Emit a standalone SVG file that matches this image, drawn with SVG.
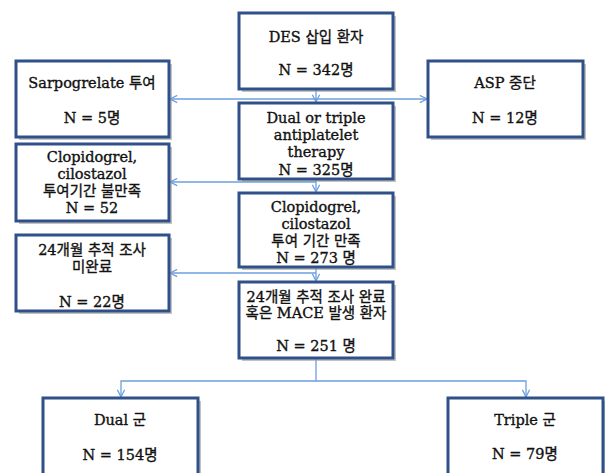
<svg xmlns="http://www.w3.org/2000/svg" width="605" height="473" viewBox="0 0 605 473">
<defs>
<style>
.box{fill:#fff;stroke:#2f5089;stroke-width:3}
.sh{fill:#9a9a9a;opacity:0.6}
.t{font-family:"DejaVu Serif","Noto Sans CJK KR",serif;font-size:14.5px;font-weight:normal;fill:#111;stroke:#111;stroke-width:0.35;text-anchor:middle}
.c{fill:none;stroke:#6b9fe0;stroke-width:1.3}
</style>
<marker id="ah" viewBox="0 0 10 10" refX="9" refY="5" markerWidth="9" markerHeight="9" markerUnits="userSpaceOnUse" orient="auto">
<path d="M1,1 L9,5 L1,9" fill="none" stroke="#6b9fe0" stroke-width="1.4"/>
</marker>
</defs>
<rect width="605" height="473" fill="#fff"/>
<g id="connectors">
<line class="c" x1="316" y1="99" x2="170" y2="99" marker-end="url(#ah)"/>
<line class="c" x1="316" y1="99" x2="427" y2="99" marker-end="url(#ah)"/>
<line class="c" x1="316" y1="90" x2="316" y2="102" marker-end="url(#ah)"/>
<line class="c" x1="316" y1="182" x2="170" y2="182" marker-end="url(#ah)"/>
<line class="c" x1="316" y1="180" x2="316" y2="192" marker-end="url(#ah)"/>
<line class="c" x1="316" y1="273" x2="170" y2="273" marker-end="url(#ah)"/>
<line class="c" x1="316" y1="268" x2="316" y2="281" marker-end="url(#ah)"/>
<polyline class="c" points="316,359 316,381 121,381 121,397" marker-end="url(#ah)"/>
<polyline class="c" points="316,381 526,381 526,397" marker-end="url(#ah)"/>
</g>
<g id="des">
<rect class="sh" x="242" y="16" width="154" height="76"/>
<rect class="box" x="239" y="13" width="154" height="76"/>
<text class="t" x="316" y="42">DES 삽입 환자</text>
<text class="t" x="316" y="75">N = 342명</text>
</g>
<g id="sarpogrelate">
<rect class="sh" x="19" y="64" width="153" height="76"/>
<rect class="box" x="16" y="61" width="153" height="76"/>
<text class="t" x="92" y="88">Sarpogrelate 투여</text>
<text class="t" x="92" y="123">N = 5명</text>
</g>
<g id="asp">
<rect class="sh" x="431" y="64" width="155" height="76"/>
<rect class="box" x="428" y="61" width="155" height="76"/>
<text class="t" x="505" y="88">ASP 중단</text>
<text class="t" x="505" y="123">N = 12명</text>
</g>
<g id="dual-triple">
<rect class="sh" x="242" y="106" width="154" height="76"/>
<rect class="box" x="239" y="103" width="154" height="76"/>
<text class="t" x="316" y="123">Dual or triple</text>
<text class="t" x="316" y="140">antiplatelet</text>
<text class="t" x="316" y="157">therapy</text>
<text class="t" x="316" y="175">N = 325명</text>
</g>
<g id="clopi-unsat">
<rect class="sh" x="19" y="147" width="153" height="77"/>
<rect class="box" x="16" y="144" width="153" height="77"/>
<text class="t" x="92" y="162">Clopidogrel,</text>
<text class="t" x="92" y="179">cilostazol</text>
<text class="t" x="92" y="196">투여기간 불만족</text>
<text class="t" x="92" y="213">N = 52</text>
</g>
<g id="clopi-sat">
<rect class="sh" x="242" y="196" width="154" height="74"/>
<rect class="box" x="239" y="193" width="154" height="74"/>
<text class="t" x="316" y="212">Clopidogrel,</text>
<text class="t" x="316" y="229">cilostazol</text>
<text class="t" x="316" y="246">투여 기간 만족</text>
<text class="t" x="316" y="263">N =  273 명</text>
</g>
<g id="followup-incomplete">
<rect class="sh" x="19" y="238" width="153" height="76"/>
<rect class="box" x="16" y="235" width="153" height="76"/>
<text class="t" x="92" y="255">24개월 추적 조사</text>
<text class="t" x="92" y="272">미완료</text>
<text class="t" x="92" y="307">N = 22명</text>
</g>
<g id="followup-complete">
<rect class="sh" x="242" y="285" width="154" height="76"/>
<rect class="box" x="239" y="282" width="154" height="76"/>
<text class="t" x="316" y="302">24개월 추적 조사 완료</text>
<text class="t" x="316" y="318">혹은 MACE 발생 환자</text>
<text class="t" x="316" y="351">N = 251 명</text>
</g>
<g id="dual-group">
<rect class="sh" x="46" y="401" width="155" height="80"/>
<rect class="box" x="43" y="398" width="155" height="80"/>
<text class="t" x="120" y="425">Dual 군</text>
<text class="t" x="120" y="460">N = 154명</text>
</g>
<g id="triple-group">
<rect class="sh" x="451" y="401" width="155" height="80"/>
<rect class="box" x="448" y="398" width="155" height="80"/>
<text class="t" x="525" y="425">Triple 군</text>
<text class="t" x="525" y="459">N = 79명</text>
</g>
</svg>
